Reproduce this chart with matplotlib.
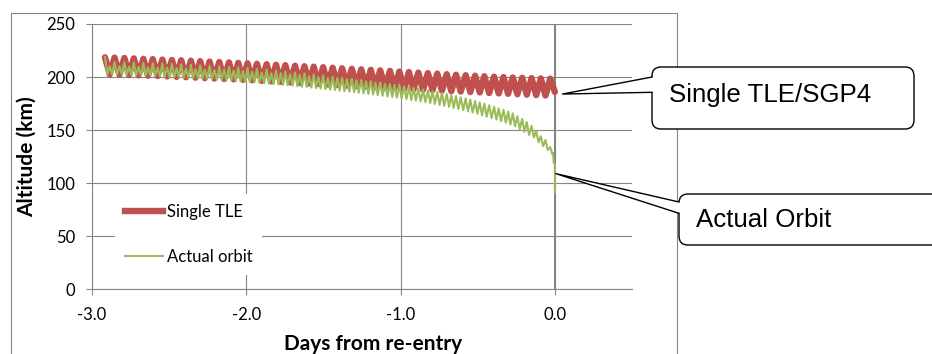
#Altitude of the object before re-entry: single TLE propagation vs actual orbit

import matplotlib.pyplot as plt
from matplotlib.patches import FancyBboxPatch, Polygon, Rectangle
from matplotlib.lines import Line2D

plt.rcParams['font.family'] = ['Lato', 'DejaVu Sans']

# Single TLE / SGP4 : peaks and troughs of each orbit (days, km)
red_days = [-2.916, -2.885, -2.854, -2.822, -2.790, -2.760, -2.729, -2.698,
            -2.667, -2.637, -2.606, -2.575, -2.544, -2.513, -2.482, -2.452,
            -2.422, -2.391, -2.359, -2.329, -2.299, -2.269, -2.238, -2.207,
            -2.175, -2.144, -2.112, -2.082, -2.052, -2.022, -1.992, -1.962,
            -1.931, -1.900, -1.868, -1.838, -1.807, -1.777, -1.747, -1.716,
            -1.684, -1.654, -1.623, -1.593, -1.563, -1.533, -1.502, -1.471,
            -1.440, -1.410, -1.379, -1.348, -1.316, -1.286, -1.255, -1.224,
            -1.193, -1.163, -1.132, -1.101, -1.069, -1.039, -1.008, -0.977,
            -0.946, -0.916, -0.885, -0.854, -0.823, -0.793, -0.762, -0.732,
            -0.701, -0.671, -0.641, -0.610, -0.578, -0.548, -0.517, -0.487,
            -0.457, -0.426, -0.394, -0.364, -0.333, -0.303, -0.273, -0.243,
            -0.212, -0.182, -0.151, -0.121, -0.091, -0.061, -0.030, 0.000]
red_alt = [218.6, 202.5, 218.3, 202.2, 218.0, 201.9, 217.6, 201.6,
           217.2, 201.3, 216.9, 201.0, 216.5, 200.6, 216.1, 200.2,
           215.8, 199.8, 215.4, 199.4, 215.0, 199.0, 214.6, 198.6,
           214.2, 198.2, 213.8, 197.8, 213.4, 197.4, 213.0, 197.0,
           212.5, 196.5, 212.1, 196.0, 211.6, 195.5, 211.2, 195.0,
           210.7, 194.5, 210.2, 194.0, 209.8, 193.5, 209.3, 193.0,
           208.8, 192.5, 208.3, 192.0, 207.8, 191.5, 207.3, 191.0,
           206.8, 190.5, 206.3, 190.0, 205.8, 189.5, 205.2, 189.0,
           204.7, 188.5, 204.2, 188.1, 203.7, 187.6, 203.2, 187.2,
           202.7, 186.7, 202.2, 186.3, 201.7, 185.9, 201.3, 185.5,
           200.8, 185.0, 200.4, 184.6, 200.0, 184.2, 199.6, 183.8,
           199.3, 183.4, 199.0, 183.0, 198.7, 182.6, 198.5, 186.0]

# actual orbit (days, km)
green_days = [-2.916, -2.900, -2.885, -2.870, -2.854, -2.838, -2.822, -2.806,
              -2.790, -2.775, -2.760, -2.745, -2.729, -2.714, -2.698, -2.683,
              -2.667, -2.652, -2.637, -2.622, -2.606, -2.591, -2.575, -2.560,
              -2.544, -2.529, -2.513, -2.498, -2.482, -2.467, -2.452, -2.437,
              -2.422, -2.407, -2.391, -2.375, -2.359, -2.344, -2.329, -2.314,
              -2.299, -2.284, -2.269, -2.254, -2.238, -2.223, -2.207, -2.191,
              -2.175, -2.160, -2.144, -2.128, -2.112, -2.097, -2.082, -2.067,
              -2.052, -2.037, -2.022, -2.007, -1.992, -1.977, -1.962, -1.947,
              -1.931, -1.916, -1.900, -1.884, -1.868, -1.853, -1.838, -1.823,
              -1.807, -1.792, -1.777, -1.762, -1.747, -1.732, -1.716, -1.700,
              -1.684, -1.669, -1.654, -1.639, -1.623, -1.608, -1.593, -1.578,
              -1.563, -1.548, -1.533, -1.518, -1.502, -1.487, -1.471, -1.456,
              -1.440, -1.425, -1.410, -1.395, -1.379, -1.364, -1.348, -1.332,
              -1.316, -1.301, -1.286, -1.271, -1.255, -1.240, -1.224, -1.209,
              -1.193, -1.178, -1.163, -1.148, -1.132, -1.117, -1.101, -1.085,
              -1.069, -1.054, -1.039, -1.024, -1.008, -0.993, -0.977, -0.962,
              -0.946, -0.931, -0.916, -0.901, -0.885, -0.870, -0.854, -0.839,
              -0.823, -0.808, -0.793, -0.778, -0.762, -0.747, -0.732, -0.717,
              -0.701, -0.686, -0.671, -0.656, -0.641, -0.626, -0.610, -0.594,
              -0.578, -0.563, -0.548, -0.533, -0.517, -0.502, -0.487, -0.472,
              -0.457, -0.442, -0.426, -0.410, -0.394, -0.379, -0.364, -0.349,
              -0.333, -0.318, -0.303, -0.288, -0.273, -0.258, -0.243, -0.228,
              -0.212, -0.197, -0.182, -0.167, -0.151, -0.136, -0.121, -0.106,
              -0.091, -0.076, -0.061, -0.046, -0.030, -0.015, -0.011, -0.007,
              0.000, 0.000]
green_alt = [219.0, 202.5, 210.4, 202.4, 214.3, 202.3, 210.2, 202.2,
             214.0, 202.0, 209.9, 201.9, 213.7, 201.7, 209.6, 201.6,
             213.4, 201.4, 209.2, 201.2, 213.0, 201.0, 208.8, 200.8,
             212.9, 200.3, 208.9, 200.1, 212.5, 199.9, 208.5, 199.7,
             212.1, 199.5, 208.1, 199.3, 211.6, 199.0, 207.6, 198.8,
             211.1, 198.5, 207.1, 198.3, 210.6, 198.0, 206.5, 197.7,
             210.3, 197.1, 206.9, 196.8, 209.7, 196.5, 206.3, 196.2,
             209.1, 195.9, 205.7, 195.6, 208.5, 195.3, 205.1, 195.0,
             207.8, 194.6, 204.3, 194.2, 207.0, 193.8, 203.5, 193.4,
             206.1, 193.1, 203.7, 192.7, 205.3, 192.3, 202.9, 191.9,
             204.4, 191.4, 202.0, 190.9, 203.5, 190.5, 201.1, 190.1,
             202.6, 189.6, 200.1, 189.1, 201.6, 188.6, 199.1, 188.1,
             200.3, 187.7, 199.0, 187.2, 199.3, 186.7, 198.0, 186.2,
             198.3, 185.7, 197.0, 185.2, 197.2, 184.6, 195.9, 184.1,
             196.1, 183.5, 194.7, 182.9, 194.9, 182.3, 193.5, 181.7,
             193.4, 181.2, 192.7, 180.6, 192.1, 179.9, 191.3, 179.2,
             190.7, 178.5, 189.9, 177.8, 189.2, 177.0, 188.3, 176.2,
             187.6, 175.4, 186.7, 174.6, 185.9, 173.7, 184.9, 172.8,
             184.1, 171.9, 183.0, 170.9, 182.1, 169.9, 180.9, 168.8,
             179.9, 167.7, 178.6, 166.5, 177.5, 165.3, 176.1, 164.0,
             174.9, 162.7, 173.4, 161.3, 172.1, 159.9, 170.5, 158.4,
             169.1, 156.9, 167.4, 155.2, 165.8, 153.6, 163.1, 151.0,
             160.6, 148.4, 157.5, 145.4, 154.0, 143.0, 149.5, 138.5,
             144.2, 134.8, 140.7, 131.3, 134.0, 127.0, 128.5, 119.0,
             119.0, 91.5]

x_ticks = [-3.0, -2.0, -1.0, 0.0]
x_labels = ['-3.0', '-2.0', '-1.0', '0.0']
y_ticks = [0, 50, 100, 150, 200, 250]
legend_names = ['Single TLE', 'Actual orbit']
callout_names = ['Single TLE/SGP4', 'Actual Orbit']
callout_tips = [(0.05, 184.0), (0.006, 109.0)]

red = '#C0504D'
green = '#9BBB59'
gray = '#868686'

W, H = 932, 354
fig = plt.figure(figsize=(W / 100, H / 100), dpi=100)
ax = fig.add_axes([92 / W, 1 - 289.3 / H, 540 / W, 265.3 / H])

ax.plot(red_days, red_alt, color=red, lw=4.6, solid_joinstyle='round',
        solid_capstyle='round', zorder=3)
ax.plot(green_days, green_alt, color=green, lw=1.5, zorder=4)
ax.axvline(0, color='#828282', lw=1.4, zorder=1.5)

ax.set_xlim(-3.0, 0.5)
ax.set_ylim(0, 250)
ax.set_xticks(x_ticks)
ax.set_xticklabels(x_labels)
ax.set_yticks(y_ticks)
ax.grid(color=gray, lw=0.8)
ax.set_axisbelow(True)
for s in ['top', 'right']:
        ax.spines[s].set_visible(False)
for s in ['left', 'bottom']:
        ax.spines[s].set_color(gray)
        ax.spines[s].set_linewidth(0.8)
ax.tick_params(axis='both', direction='out', length=4, color=gray, labelsize=12)
ax.tick_params(axis='x', pad=9)
ax.tick_params(axis='y', pad=8)

fig.text(373 / W, 1 - 344 / H, 'Days from re-entry', fontsize=15, fontweight='bold',
         ha='center', va='center')
fig.text(27 / W, 1 - 157 / H, 'Altitude (km)', fontsize=15, fontweight='bold',
         ha='center', va='center', rotation=90)

handles = [Line2D([], [], color=red, lw=4.6), Line2D([], [], color=green, lw=1.5)]
ax.legend(handles, legend_names, loc='upper left', bbox_to_anchor=(0.0426, 0.361),
          frameon=True, facecolor='white', edgecolor='none', framealpha=1,
          fontsize=12, handlelength=2.3, handletextpad=0.2, labelspacing=1.78,
          borderpad=0.6, borderaxespad=0)

# overlay in pixel units for the chart frame and the callouts
ov = fig.add_axes([0, 0, 1, 1])
ov.set_xlim(0, W)
ov.set_ylim(H, 0)
ov.axis('off')
ov.add_patch(Rectangle((10.5, 12.5), 666.5, 400, fill=False, edgecolor=gray, lw=0.8))

boxes = [(652, 67, 262, 62), (679, 194, 290, 51)]
bases = [(77, 92.3), (202, 213.3)]
text_pos = [(669, 101.7), (696, 227.3)]
for i in range(2):
        bx, by, bw, bh = boxes[i]
        ov.add_patch(FancyBboxPatch((bx, by), bw, bh, boxstyle='round,pad=0,rounding_size=9',
                                    facecolor='white', edgecolor='black', lw=1, zorder=5))
        tip = ov.transData.inverted().transform(ax.transData.transform(callout_tips[i]))
        y1, y2 = bases[i]
        ov.add_patch(Polygon([(bx + 4, y1), (bx, y1), tip, (bx, y2), (bx + 4, y2)],
                             closed=True, facecolor='white', edgecolor='none', zorder=6))
        ov.plot([bx, tip[0], bx], [y1, tip[1], y2], color='black', lw=1, zorder=7)
        ov.text(text_pos[i][0], text_pos[i][1], callout_names[i], fontsize=18.6,
                family='Liberation Sans', va='baseline', ha='left', zorder=8)

fig.savefig('out.png', dpi=100)
